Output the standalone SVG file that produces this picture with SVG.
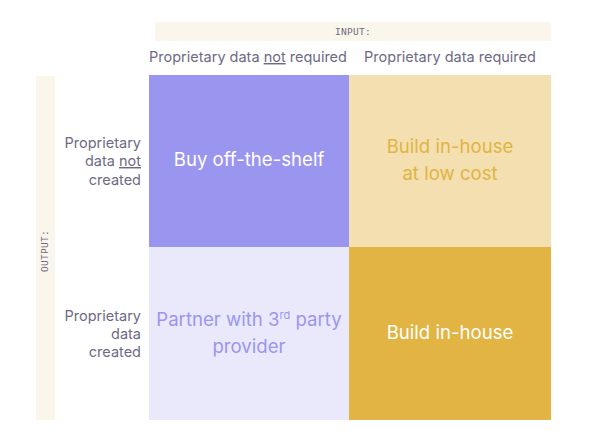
<svg xmlns="http://www.w3.org/2000/svg" width="589" height="438" viewBox="0 0 589 438">
<style>
.band{fill:#FAF6EC}
.axis{font-family:"DejaVu Sans Mono","Liberation Mono",monospace;font-size:9.5px;fill:#6E6A80;letter-spacing:0.3px}
.hdr{font-family:Inter,"Liberation Sans",sans-serif;font-size:14.5px;fill:#6E6A85}
.cell{font-family:Inter,"Liberation Sans",sans-serif;font-size:18.6px;text-anchor:middle}
</style>
<rect width="589" height="438" fill="#FFFFFF"/>
<g id="input-axis">
<rect class="band" x="155" y="22" width="396" height="19"/>
<text class="axis" x="353" y="35" text-anchor="middle">INPUT:</text>
<text class="hdr" x="248" y="62" text-anchor="middle">Proprietary data <tspan text-decoration="underline">not</tspan> required</text>
<text class="hdr" x="450" y="62" text-anchor="middle">Proprietary data required</text>
</g>
<g id="output-axis">
<rect class="band" x="36" y="76" width="19" height="344"/>
<text class="axis" transform="translate(48,251) rotate(-90)" text-anchor="middle">OUTPUT:</text>
<text class="hdr" text-anchor="end"><tspan x="141" y="148">Proprietary</tspan><tspan x="141" y="166">data <tspan text-decoration="underline">not</tspan></tspan><tspan x="141" y="185">created</tspan></text>
<text class="hdr" text-anchor="end"><tspan x="141" y="321">Proprietary</tspan><tspan x="141" y="339">data</tspan><tspan x="141" y="357">created</tspan></text>
</g>
<g id="buy">
<rect x="149" y="75" width="200" height="172" fill="#9A96EF"/>
<text class="cell" x="249" y="166" fill="#FFFFFF">Buy off-the-shelf</text>
</g>
<g id="build-low-cost">
<rect x="349" y="75" width="202" height="172" fill="#F3DFB0"/>
<text class="cell" x="450" y="153" fill="#E2B443">Build in-house</text>
<text class="cell" x="450" y="180" fill="#E2B443">at low cost</text>
</g>
<g id="partner">
<rect x="149" y="247" width="200" height="173" fill="#EAE8FB"/>
<text class="cell" x="249" y="326" fill="#9A96EF">Partner with 3<tspan font-size="11" dy="-7">rd</tspan><tspan dy="7"> party</tspan></text>
<text class="cell" x="249" y="353" fill="#9A96EF">provider</text>
</g>
<g id="build">
<rect x="349" y="247" width="202" height="173" fill="#E1B443"/>
<text class="cell" x="450" y="339" fill="#FFFFFF">Build in-house</text>
</g>
<g id="connectors"/>
</svg>
